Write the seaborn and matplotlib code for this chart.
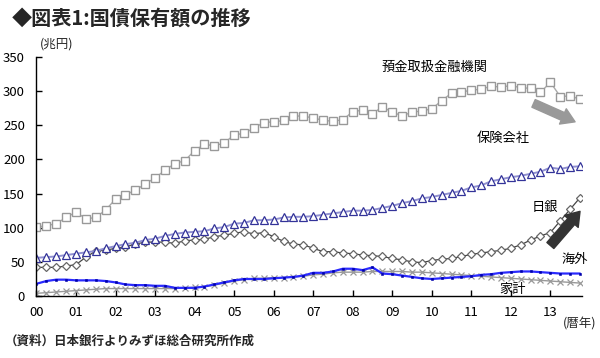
import numpy as np
import pandas as pd
import matplotlib
matplotlib.use("Agg")
import matplotlib.pyplot as plt
import seaborn as sns

# quarterly holdings, 2000Q1 - 2013Q4 (兆円)
deposit = [101, 103, 106, 115, 123, 113, 115, 126, 142, 148, 155, 164, 173, 184, 194, 198,
           213, 222, 220, 224, 236, 238, 246, 254, 255, 257, 264, 263, 261, 257, 256, 258,
           270, 272, 267, 277, 269, 264, 269, 271, 274, 286, 297, 299, 301, 303, 307, 306,
           308, 305, 304, 298, 313, 292, 293, 288]
insurance = [56, 57, 58, 60, 62, 64, 66, 70, 73, 76, 78, 82, 84, 88, 91, 93,
             94, 95, 99, 101, 106, 107, 111, 111, 112, 115, 116, 116, 117, 119, 121, 123,
             125, 125, 126, 129, 132, 136, 139, 143, 145, 148, 151, 154, 159, 162, 168, 171,
             174, 176, 179, 182, 188, 186, 189, 190]
boj = [42, 42, 42, 44, 46, 57, 66, 67, 70, 72, 76, 79, 79, 79, 77, 81,
       82, 83, 87, 89, 92, 94, 91, 93, 87, 80, 76, 75, 70, 65, 65, 63,
       62, 60, 59, 58, 55, 53, 50, 49, 52, 54, 55, 58, 61, 63, 65, 67,
       70, 75, 82, 88, 93, 110, 127, 144]
foreign = [18, 22, 24, 24, 23, 23, 23, 22, 20, 17, 16, 16, 15, 15, 12, 12,
           12, 14, 17, 20, 23, 25, 25, 25, 26, 27, 28, 30, 34, 34, 36, 40,
           40, 38, 42, 33, 32, 30, 28, 26, 25, 26, 27, 28, 29, 31, 32, 34,
           35, 36, 36, 35, 34, 33, 33, 33]
household = [4, 5, 6, 7, 8, 9, 10, 11, 11, 11, 11, 11, 11, 11, 11, 12,
             13, 14, 16, 19, 22, 24, 26, 26, 27, 27, 28, 29, 31, 32, 34, 35,
             35, 35, 36, 36, 36, 36, 35, 35, 34, 33, 32, 31, 30, 29, 28, 27,
             26, 25, 24, 23, 22, 21, 20, 19]
year_labels = ["00", "01", "02", "03", "04", "05", "06", "07", "08", "09", "10", "11", "12", "13"]

sns.set_style("white")
plt.rcParams['font.family'] = ['Noto Sans CJK JP', 'DejaVu Sans']

x = np.arange(len(deposit))
fig = plt.figure(figsize=(6, 3.58), dpi=100)
ax = fig.add_axes([0.06, 0.173, 0.91, 0.668])

sns.lineplot(x=x, y=household, ax=ax, color="#999999", linewidth=1, marker="x",
             markersize=5, markeredgecolor="#999999", markeredgewidth=0.9)
sns.lineplot(x=x, y=foreign, ax=ax, color="#2a2aff", linewidth=1.6, marker="s",
             markersize=2, markerfacecolor="#0000aa", markeredgecolor="#0000aa",
             markeredgewidth=0.4)
sns.lineplot(x=x, y=boj, ax=ax, color="#444444", linewidth=0.9, marker="D",
             markersize=4.4, markerfacecolor="white", markeredgecolor="#666666",
             markeredgewidth=0.9)
sns.lineplot(x=x, y=insurance, ax=ax, color="#9090d0", linewidth=1.4, marker="^",
             markersize=6.2, markerfacecolor="white", markeredgecolor="#333399",
             markeredgewidth=0.9)
sns.lineplot(x=x, y=deposit, ax=ax, color="#aaaaaa", linewidth=1, marker="s",
             markersize=5.8, markerfacecolor="white", markeredgecolor="#999999",
             markeredgewidth=1)

ax.set_xlim(-0.05, 55.2)
ax.set_ylim(0, 350)
ax.set_xticks(np.arange(0, len(deposit), 4))
ax.set_xticklabels(year_labels)
ax.set_yticks(np.arange(0, 351, 50))
ax.set_xlabel("")
ax.set_ylabel("")
sns.despine(ax=ax)
for s in ["left", "bottom"]:
    ax.spines[s].set_color("black")
    ax.spines[s].set_linewidth(1)
ax.tick_params(direction="in", length=4, width=1, color="black", labelsize=9.5,
               labelcolor="black", left=True, bottom=True)
ax.tick_params(axis="y", pad=8)
ax.tick_params(axis="x", pad=7)

# series labels
lab = dict(fontsize=9.5, color="black", va="center", ha="left")
ax.text(34.9, 335, "預金取扱金融機関", **lab)
ax.text(44.5, 231, "保険会社", **lab)
ax.text(50.1, 129, "日銀", **lab)
ax.text(53.1, 53, "海外", **lab)
ax.text(46.8, 9, "家計", **lab)

# trend arrows
ax.annotate("", xy=(54.5, 255), xytext=(50.3, 282),
            arrowprops=dict(arrowstyle="simple,head_length=0.8,head_width=1.0,tail_width=0.5",
                            color="#999999", shrinkA=0, shrinkB=0, mutation_scale=12))
ax.annotate("", xy=(55.0, 124), xytext=(52.0, 74),
            arrowprops=dict(arrowstyle="simple,head_length=0.8,head_width=1.1,tail_width=0.55",
                            color="#333333", shrinkA=0, shrinkB=0, mutation_scale=12))

fig.text(0.02, 1 - 18 / 358, "◆図表1:国債保有額の推移", fontsize=14.5, fontweight="bold",
         va="center", ha="left")
fig.text(40 / 600, 1 - 44 / 358, "(兆円)", fontsize=9, va="center", ha="left")
fig.text(563 / 600, 1 - 324 / 358, "(暦年)", fontsize=9, va="center", ha="left")
fig.text(5 / 600, 1 - 341 / 358, "（資料）日本銀行よりみずほ総合研究所作成", fontsize=9,
         fontweight="bold", va="center", ha="left")

fig.savefig("out.png", dpi=100, facecolor="white")
